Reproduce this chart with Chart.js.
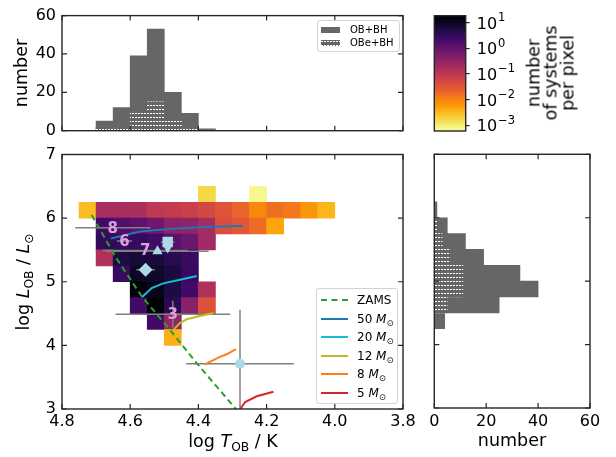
<!DOCTYPE html>
<html lang="en">
<head>
<meta charset="UTF-8" />
<title>OB+BH HR diagram</title>
<script src="https://cdn.jsdelivr.net/npm/chart.js@4"></script>
<style>
  body { margin: 0; background: #fff; font-family: 'DejaVu Sans', sans-serif; color: #000; }
  .fig { position: relative; width: 616px; height: 457px; overflow: hidden; }
  .fig canvas { position: absolute; left: 0; top: 0; }
  .lbl { position: absolute; white-space: nowrap; font-size: 17.5px; line-height: 1; transform: translate(-50%, -50%); }
  .rot { transform: translate(-50%, -50%) rotate(-90deg); }
  .lbl sub, .legend sub { font-size: 70%; vertical-align: -0.3em; line-height: 0; }
  .cblbl { text-align: center; line-height: 17px; }
  .legend { position: absolute; background: rgba(255,255,255,0.8); border: 1px solid #d3d3d3; border-radius: 3px; box-sizing: border-box; }
  .legend .row { position: absolute; left: 0; right: 0; height: 0; }
  .legend .sample { position: absolute; top: -1px; height: 0; }
  .legend .txt { position: absolute; top: 0; transform: translateY(-50%); white-space: nowrap; line-height: 1; }
</style>
</head>
<body>
<div class="fig" id="fig">
  <canvas id="topHist" width="616" height="457"></canvas>
  <canvas id="cbar" width="616" height="457"></canvas>
  <canvas id="hrd" width="616" height="457"></canvas>
  <canvas id="sideHist" width="616" height="457"></canvas>

  <div class="lbl rot" style="left:22px;top:73px">number</div>
  <div class="lbl rot" style="left:24px;top:282px">log <i>L</i><sub>OB</sub> / <i>L</i><sub>⊙</sub></div>
  <div class="lbl" style="left:233px;top:442px">log <i>T</i><sub>OB</sub> / K</div>
  <div class="lbl" style="left:512px;top:441px">number</div>
  <div class="lbl rot cblbl" style="left:551px;top:73px">number<br>of systems<br>per pixel</div>

  <div class="legend" id="histLegend" style="left:317px;top:20px;width:83px;height:32px;font-size:10px"></div>
  <div class="legend" id="hrdLegend" style="left:316px;top:288px;width:82px;height:116px;font-size:12px"></div>
</div>

<script>
  // ---- heat map: number of systems per pixel ----
  const tempMid = [4.725, 4.675, 4.625, 4.575, 4.525, 4.475, 4.425, 4.375, 4.325, 4.275, 4.225, 4.175, 4.125, 4.075, 4.025];
  const lumLow = [6.25, 6.0, 5.75, 5.5, 5.25, 5.0, 4.75, 4.5, 4.25, 4.0];
  const lumStep = 0.25;
  const density = [
    [null, null, null, null, null, null, null, 0.0018, null, null, 0.0008, null, null, null, null],
    [0.0033, 0.18, 0.18, 0.17, 0.1, 0.09, 0.072, 0.054, 0.035, 0.021, 0.0093, 0.017, 0.014, 0.0069, 0.0037],
    [null, 2.4, 1.6, 1.2, 0.8, 0.38, 0.34, 0.2, 0.044, 0.032, 0.019, 0.005, null, null, null],
    [null, 3.2, 3.2, 3.0, 2.5, 1.3, 0.85, 0.22, null, null, null, null, null, null, null],
    [null, 0.15, 5.4, 6.6, 6.0, 4.0, 2.9, null, null, null, null, null, null, null, null],
    [null, null, 2.95, 9.1, 8.1, 6.0, 2.95, null, null, null, null, null, null, null, null],
    [null, null, null, 18, 11, 5.4, 2.4, 0.15, null, null, null, null, null, null, null],
    [null, null, null, 2.4, 17, 4.0, 0.42, 0.039, null, null, null, null, null, null, null],
    [null, null, null, null, 2.4, 0.31, null, null, null, null, null, null, null, null, null],
    [null, null, null, null, null, 0.0041, null, null, null, null, null, null, null, null, null]
  ];
  const logMin = -3.19, logMax = 1.27;

  // ---- histograms ----
  const histT = [4.675, 4.625, 4.575, 4.525, 4.475, 4.425, 4.375];
  const histTAll = [5, 12, 39, 53, 20, 9, 1];
  const histTBe = [2, 2, 9, 15, 5, 2, 0];
  const histL = [6.125, 5.875, 5.625, 5.375, 5.125, 4.875, 4.625, 4.375];
  const histLAll = [1, 5, 12, 19, 33, 40, 25, 4];
  const histLBe = [0, 1, 3, 6, 11, 11, 5, 0];

  // ---- tracks ----
  const zamsT = [4.713, 4.642, 4.566, 4.483, 4.405, 4.29, 4.28];
  const zamsL = [6.05, 5.38, 4.77, 4.24, 3.72, 3.0, 2.93];
  const trackNames = ['50', '20', '12', '8', '5'];
  const trackColours = ['#1f77b4', '#17becf', '#bcbd22', '#ff7f0e', '#d62728'];
  const trackT = [
    [4.657, 4.571, 4.474, 4.376, 4.27],
    [4.565, 4.537, 4.503, 4.454, 4.405],
    [4.474, 4.454, 4.434, 4.405, 4.356],
    [4.381, 4.337, 4.317, 4.290],
    [4.281, 4.263, 4.229, 4.18]
  ];
  const trackL = [
    [5.68, 5.79, 5.835, 5.86, 5.88],
    [4.76, 4.90, 4.975, 5.03, 5.09],
    [4.24, 4.35, 4.41, 4.45, 4.51],
    [3.70, 3.82, 3.86, 3.94],
    [2.97, 3.11, 3.20, 3.27]
  ];

  // ---- observed systems ----
  const numText = ['8', '6', '7', '3'];
  const numT = [4.651, 4.617, 4.556, 4.475];
  const numL = [5.85, 5.64, 5.49, 4.49];
  const numTerr = [0.11, 0.022, 0.125, 0.168];
  const numLerr = [0, 0, 0, 0.21];
  const markT = [4.52, 4.49, 4.49, 4.555, 4.278];
  const markL = [5.48, 5.625, 5.54, 5.19, 3.71];
  const markTerr = [0.15, 0.02, 0, 0.027, 0.158];
  const markLerr = [0, 0, 0, 0, 0.85];
  const markStyle = ['triangle', 'rect', 'triangle', 'rectRot', 'circle'];
  const markRot = [0, 0, 180, 0, 0];
  const markSize = [6, 7.4, 6, 7, 5];

  // ---- colour bar ticks ----
  const cbTicks = [1e-3, 1e-2, 1e-1, 1, 10];
  const cbExp = ['−3', '−2', '−1', '0', '1'];

  Chart.defaults.font.family = "'DejaVu Sans', sans-serif";
  Chart.defaults.color = '#000';
  Chart.defaults.animation = false;
  Chart.defaults.responsive = false;
  Chart.defaults.devicePixelRatio = 1;
  Chart.defaults.plugins.legend.display = false;
  Chart.defaults.plugins.tooltip.enabled = false;

  const infernoStops = ['#000004', '#07051b', '#160b39', '#280b53', '#420a68', '#570f6d', '#6a176e', '#7f1e6c',
    '#932667', '#a82e5f', '#bc3754', '#cc4248', '#dd513a', '#e8602d', '#f37819', '#f98c0a', '#fca50a',
    '#fac127', '#f6d746', '#f1ed71', '#fcffa4'];
  function hexRgb(h) { return [1, 3, 5].map(i => parseInt(h.substr(i, 2), 16)); }
  function inferno(t) {
    t = Math.min(1, Math.max(0, t));
    const p = t * 20, i = Math.min(19, Math.floor(p)), f = p - i;
    const a = hexRgb(infernoStops[i]), b = hexRgb(infernoStops[i + 1]);
    return 'rgb(' + a.map((v, k) => Math.round(v + (b[k] - v) * f)).join(',') + ')';
  }
  // inferno_r on a log scale
  function cellColour(v) {
    return inferno(1 - (Math.log10(v) - logMin) / (logMax - logMin));
  }

  function dotTile() {
    const c = document.createElement('canvas');
    c.width = 3; c.height = 4;
    const g = c.getContext('2d');
    g.fillStyle = '#666';
    g.fillRect(0, 0, 3, 4);
    g.fillStyle = '#fff';
    g.fillRect(0, 1, 2, 1);
    return c;
  }
  const tile = dotTile();
  const hatch = tile.getContext('2d').createPattern(tile, 'repeat');

  // frame and inward ticks, matplotlib style
  const frame = {
    id: 'frame',
    afterDraw(chart, args, opts) {
      const { ctx, chartArea: a } = chart;
      ctx.save();
      ctx.strokeStyle = '#262626';
      ctx.lineWidth = 1.2;
      if (opts.inward) {
        ctx.beginPath();
        for (const id of ['x', 'y']) {
          const s = chart.scales[id];
          for (const t of s.ticks) {
            const p = s.getPixelForValue(t.value);
            if (s.isHorizontal()) {
              ctx.moveTo(p, a.top); ctx.lineTo(p, a.top + 5);
              ctx.moveTo(p, a.bottom); ctx.lineTo(p, a.bottom - 5);
            } else {
              ctx.moveTo(a.left, p); ctx.lineTo(a.left + 5, p);
              ctx.moveTo(a.right, p); ctx.lineTo(a.right - 5, p);
            }
          }
        }
        ctx.stroke();
      }
      ctx.lineWidth = 1.4;
      ctx.strokeRect(a.left, a.top, a.right - a.left, a.bottom - a.top);
      ctx.restore();
    }
  };

  const textMarks = {
    id: 'textMarks',
    afterDatasetsDraw(chart) {
      const ctx = chart.ctx;
      chart.data.datasets.forEach((ds, i) => {
        if (!ds.markText) return;
        const meta = chart.getDatasetMeta(i);
        ctx.save();
        ctx.font = "bold 15px 'DejaVu Sans'";
        ctx.fillStyle = '#dda0dd';
        ctx.textAlign = 'center';
        ctx.textBaseline = 'middle';
        meta.data.forEach((pt, j) => ctx.fillText(ds.markText[j], pt.x, pt.y + 1));
        ctx.restore();
      });
    }
  };

  const cbFill = {
    id: 'cbFill',
    beforeDatasetsDraw(chart) {
      const { ctx, chartArea: a } = chart;
      const g = ctx.createLinearGradient(0, a.top, 0, a.bottom);
      infernoStops.forEach((c, i) => g.addColorStop(i / 20, c));
      ctx.fillStyle = g;
      ctx.fillRect(a.left, a.top, a.right - a.left, a.bottom - a.top);
    }
  };

  // power-of-ten labels with a raised exponent
  const cbText = {
    id: 'cbText',
    afterDraw(chart) {
      const { ctx, chartArea: a } = chart;
      const s = chart.scales.y;
      ctx.save();
      ctx.fillStyle = '#000';
      ctx.textAlign = 'left';
      ctx.textBaseline = 'alphabetic';
      cbTicks.forEach((v, i) => {
        const y = s.getPixelForValue(v);
        const x = a.right + 11;
        ctx.font = "16px 'DejaVu Sans'";
        ctx.fillText('10', x, y + 6);
        const w = ctx.measureText('10').width;
        ctx.font = "11.5px 'DejaVu Sans'";
        ctx.fillText(cbExp[i], x + w + 1, y - 1.5);
      });
      ctx.restore();
    }
  };

  const tickFont = { size: 16 };
  const noGrid = { display: false, drawTicks: false };

  // ---- main HR diagram ----
  const cells = [];
  lumLow.forEach((lo, r) => density[r].forEach((v, c) => {
    if (v != null) cells.push({ x: tempMid[c], y: [lo, lo + lumStep], v: v });
  }));

  const hrdSets = [{
    type: 'bar', data: cells, backgroundColor: cells.map(c => cellColour(c.v)),
    barPercentage: 1, categoryPercentage: 1, borderWidth: 0, order: 10
  }];

  function pushErr(t, l, te, le) {
    t.forEach((tv, i) => {
      const segs = [];
      if (te[i]) segs.push([{ x: tv - te[i], y: l[i] }, { x: tv + te[i], y: l[i] }]);
      if (le[i]) segs.push([{ x: tv, y: l[i] - le[i] }, { x: tv, y: l[i] + le[i] }]);
      segs.forEach(s => hrdSets.push({ type: 'scatter', data: s, showLine: true, borderColor: '#808080', borderWidth: 1.5, pointRadius: 0, order: 6 }));
    });
  }
  pushErr(numT, numL, numTerr, numLerr);
  pushErr(markT, markL, markTerr, markLerr);

  hrdSets.push({
    type: 'scatter', data: zamsT.map((t, i) => ({ x: t, y: zamsL[i] })), showLine: true,
    borderColor: '#2ca02c', borderWidth: 2, borderDash: [6, 4], pointRadius: 0, order: 4
  });
  trackT.forEach((ts, k) => hrdSets.push({
    type: 'scatter', data: ts.map((t, i) => ({ x: t, y: trackL[k][i] })), showLine: true,
    borderColor: trackColours[k], borderWidth: 2, pointRadius: 0, order: 3
  }));
  markT.forEach((t, i) => hrdSets.push({
    type: 'scatter', data: [{ x: t, y: markL[i] }], pointStyle: markStyle[i], rotation: markRot[i],
    pointRadius: markSize[i], backgroundColor: '#add8e6', borderWidth: 0, order: 2
  }));
  hrdSets.push({
    type: 'scatter', data: numT.map((t, i) => ({ x: t, y: numL[i] })), pointRadius: 0,
    markText: numText, order: 1
  });

  new Chart(document.getElementById('hrd'), {
    type: 'scatter',
    data: { datasets: hrdSets },
    options: {
      layout: { padding: { left: 0, top: 154.5, right: 213, bottom: 0 } },
      plugins: { frame: { inward: true } },
      scales: {
        x: {
          type: 'linear', reverse: true, min: 3.8, max: 4.8, offset: false,
          grid: noGrid, border: { display: false },
          ticks: { stepSize: 0.2, padding: 3, font: tickFont, maxRotation: 0, autoSkip: false, callback: v => v.toFixed(1) },
          afterFit: s => { s.height = 48; }
        },
        y: {
          type: 'linear', min: 3, max: 7,
          grid: noGrid, border: { display: false },
          ticks: { stepSize: 1, padding: 6, font: tickFont },
          afterFit: s => { s.width = 62; }
        }
      }
    },
    plugins: [frame, textMarks]
  });

  // ---- temperature histogram ----
  new Chart(document.getElementById('topHist'), {
    type: 'bar',
    data: {
      datasets: [
        { label: 'OB+BH', data: histT.map((t, i) => ({ x: t, y: histTAll[i] })), backgroundColor: '#666', grouped: false, barPercentage: 1, categoryPercentage: 1, order: 2 },
        { label: 'OBe+BH', data: histT.map((t, i) => ({ x: t, y: histTBe[i] })), backgroundColor: hatch, grouped: false, barPercentage: 1, categoryPercentage: 1, order: 1 }
      ]
    },
    options: {
      layout: { padding: { left: 0, top: 14.7, right: 213, bottom: 326.3 } },
      plugins: { frame: { inward: true } },
      scales: {
        x: {
          type: 'linear', reverse: true, min: 3.8, max: 4.8, offset: false,
          grid: { display: false, drawTicks: false, offset: false }, border: { display: false },
          ticks: { stepSize: 0.2, display: false },
          afterFit: s => { s.height = 0; }
        },
        y: {
          type: 'linear', min: 0, max: 60,
          grid: noGrid, border: { display: false },
          ticks: { stepSize: 20, padding: 6, font: tickFont },
          afterFit: s => { s.width = 62; }
        }
      }
    },
    plugins: [frame]
  });

  // ---- luminosity histogram ----
  new Chart(document.getElementById('sideHist'), {
    type: 'bar',
    data: {
      datasets: [
        { label: 'OB+BH', data: histL.map((l, i) => ({ y: l, x: histLAll[i] })), backgroundColor: '#666', grouped: false, barPercentage: 1, categoryPercentage: 1, order: 2 },
        { label: 'OBe+BH', data: histL.map((l, i) => ({ y: l, x: histLBe[i] })), backgroundColor: hatch, grouped: false, barPercentage: 1, categoryPercentage: 1, order: 1 }
      ]
    },
    options: {
      indexAxis: 'y',
      layout: { padding: { left: 434.3, top: 154.3, right: 26, bottom: 0 } },
      plugins: { frame: { inward: true } },
      scales: {
        x: {
          type: 'linear', min: 0, max: 60,
          grid: noGrid, border: { display: false },
          ticks: { stepSize: 20, padding: 4, font: tickFont, maxRotation: 0 },
          afterFit: s => { s.height = 49; }
        },
        y: {
          type: 'linear', min: 3, max: 7, offset: false,
          grid: { display: false, drawTicks: false, offset: false }, border: { display: false },
          ticks: { stepSize: 1, display: false },
          afterFit: s => { s.width = 0; }
        }
      }
    },
    plugins: [frame]
  });

  // ---- colour bar ----
  new Chart(document.getElementById('cbar'), {
    type: 'scatter',
    data: { datasets: [] },
    options: {
      layout: { padding: { left: 434.3, top: 15.7, right: 0, bottom: 326 } },
      plugins: { frame: { inward: false } },
      scales: {
        x: { display: false, min: 0, max: 1 },
        y: {
          type: 'logarithmic', position: 'right', min: Math.pow(10, logMin), max: Math.pow(10, logMax),
          grid: { display: true, drawOnChartArea: false, drawTicks: true, tickLength: 4, color: '#262626', lineWidth: 1.2 },
          border: { display: false },
          afterBuildTicks: s => { s.ticks = cbTicks.map(v => ({ value: v })); },
          ticks: { display: false },
          afterFit: s => { s.width = 150.3; }
        }
      }
    },
    plugins: [cbFill, frame, cbText]
  });

  // ---- legends ----
  const histLegend = document.getElementById('histLegend');
  [['OB+BH', 'solid'], ['OBe+BH', 'hatch']].forEach((e, i) => {
    const row = document.createElement('div');
    row.className = 'row';
    row.style.top = (9 + i * 13.3) + 'px';
    const patch = document.createElement('div');
    patch.style.cssText = 'position:absolute;left:3px;top:-3px;width:19px;height:6px;';
    if (e[1] === 'solid') patch.style.background = '#666';
    else patch.style.backgroundImage = 'url(' + tile.toDataURL() + ')';
    const txt = document.createElement('div');
    txt.className = 'txt';
    txt.style.left = '32px';
    txt.textContent = e[0];
    row.appendChild(patch); row.appendChild(txt);
    histLegend.appendChild(row);
  });

  const hrdLegend = document.getElementById('hrdLegend');
  const legItems = [{ html: 'ZAMS', colour: '#2ca02c', dash: true }].concat(
    trackNames.map((n, k) => ({ html: n + ' <i>M</i><sub>⊙</sub>', colour: trackColours[k], dash: false })));
  legItems.forEach((e, i) => {
    const row = document.createElement('div');
    row.className = 'row';
    row.style.top = (11 + i * 18.6) + 'px';
    const s = document.createElement('div');
    s.className = 'sample';
    s.style.left = '4px';
    s.style.width = '27px';
    s.style.borderTop = '2px ' + (e.dash ? 'dashed ' : 'solid ') + e.colour;
    const txt = document.createElement('div');
    txt.className = 'txt';
    txt.style.left = '40px';
    txt.innerHTML = e.html;
    row.appendChild(s); row.appendChild(txt);
    hrdLegend.appendChild(row);
  });
</script>
</body>
</html>
